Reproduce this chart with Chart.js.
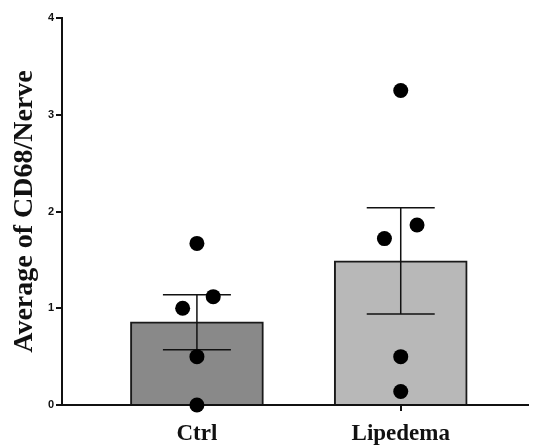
<!DOCTYPE html>
<html>
<head>
<meta charset="utf-8">
<script src="https://cdn.jsdelivr.net/npm/chart.js@4"></script>
<style>
    body { margin: 0; background: #fff; }
    #wrap { width: 535px; height: 445px; }
</style>
</head>
<body>
<div id="wrap"><canvas id="chart"></canvas></div>
<script>
// groups
const groups = ['Ctrl', 'Lipedema'];
const groupPos = [1, 2];
const means = [0.86, 1.49];
const semHigh = [1.14, 2.04];
const semLow = [0.57, 0.94];
const barColors = ['#898989', '#b8b8b8'];

// individual points (x is group position + jitter)
const pointX = [1, 1.08, 0.93, 1, 1, 2, 2.08, 1.92, 2, 2];
const pointY = [1.67, 1.12, 1.0, 0.5, 0, 3.25, 1.86, 1.72, 0.5, 0.14];

const yTicks = [0, 1, 2, 3, 4];

// draw SEM whiskers on top of the bars
const errorBars = {
    id: 'errorBars',
    afterDatasetDraw(chart, args) {
        if (args.index !== 1) return;
        const ctx = chart.ctx;
        const xs = chart.scales.x;
        const ys = chart.scales.y;
        ctx.save();
        ctx.strokeStyle = '#111';
        ctx.lineWidth = 1.5;
        groupPos.forEach((g, i) => {
            const x = xs.getPixelForValue(g);
            const hi = ys.getPixelForValue(semHigh[i]);
            const lo = ys.getPixelForValue(semLow[i]);
            ctx.beginPath();
            ctx.moveTo(x, hi); ctx.lineTo(x, lo);
            ctx.moveTo(x - 34, hi); ctx.lineTo(x + 34, hi);
            ctx.moveTo(x - 34, lo); ctx.lineTo(x + 34, lo);
            ctx.stroke();
        });
        ctx.restore();
    }
};

const ctx = document.getElementById('chart').getContext('2d');
new Chart(ctx, {
    type: 'bar',
    data: {
        datasets: [
            {
                type: 'line',
                data: pointX.map((x, i) => ({ x: x, y: pointY[i] })),
                showLine: false,
                pointRadius: 7.5,
                pointBackgroundColor: '#000',
                pointBorderWidth: 0,
                clip: false,
                order: 0
            },
            {
                type: 'bar',
                data: groupPos.map((x, i) => ({ x: x, y: means[i] })),
                backgroundColor: barColors,
                borderColor: '#1a1a1a',
                borderWidth: 2,
                barThickness: 133,
                order: 2
            }
        ]
    },
    plugins: [errorBars],
    options: {
        responsive: true,
        maintainAspectRatio: false,
        animation: false,
        layout: { padding: { top: 18, left: 0, right: 0, bottom: 0 } },
        plugins: {
            legend: { display: false },
            tooltip: { enabled: false }
        },
        scales: {
            x: {
                type: 'linear',
                min: 0.338,
                max: 2.622,
                offset: false,
                afterBuildTicks: axis => { axis.ticks = groupPos.map(v => ({ value: v })); },
                afterFit: axis => { axis.height = 40; },
                ticks: {
                    color: '#111',
                    font: { family: 'Liberation Serif', size: 23, weight: 'bold' },
                    padding: 9,
                    maxRotation: 0,
                    autoSkip: false,
                    callback: v => groups[groupPos.indexOf(v)]
                },
                grid: { offset: false, drawOnChartArea: false, tickLength: 6, color: '#111', lineWidth: 2 },
                border: { color: '#111', width: 2 }
            },
            y: {
                min: 0,
                max: 4,
                afterBuildTicks: axis => { axis.ticks = yTicks.map(v => ({ value: v })); },
                afterFit: axis => { axis.width = 62; },
                ticks: {
                    color: '#111',
                    font: { family: 'Liberation Sans', size: 11, weight: 'bold' },
                    padding: 2
                },
                grid: { drawOnChartArea: false, tickLength: 6, color: '#111', lineWidth: 2 },
                border: { color: '#111', width: 2 },
                title: {
                    display: true,
                    text: 'Average of CD68/Nerve',
                    color: '#111',
                    font: { family: 'Liberation Serif', size: 28, weight: 'bold' },
                    padding: { top: 8, bottom: 6 }
                }
            }
        }
    }
});
</script>
</body>
</html>
